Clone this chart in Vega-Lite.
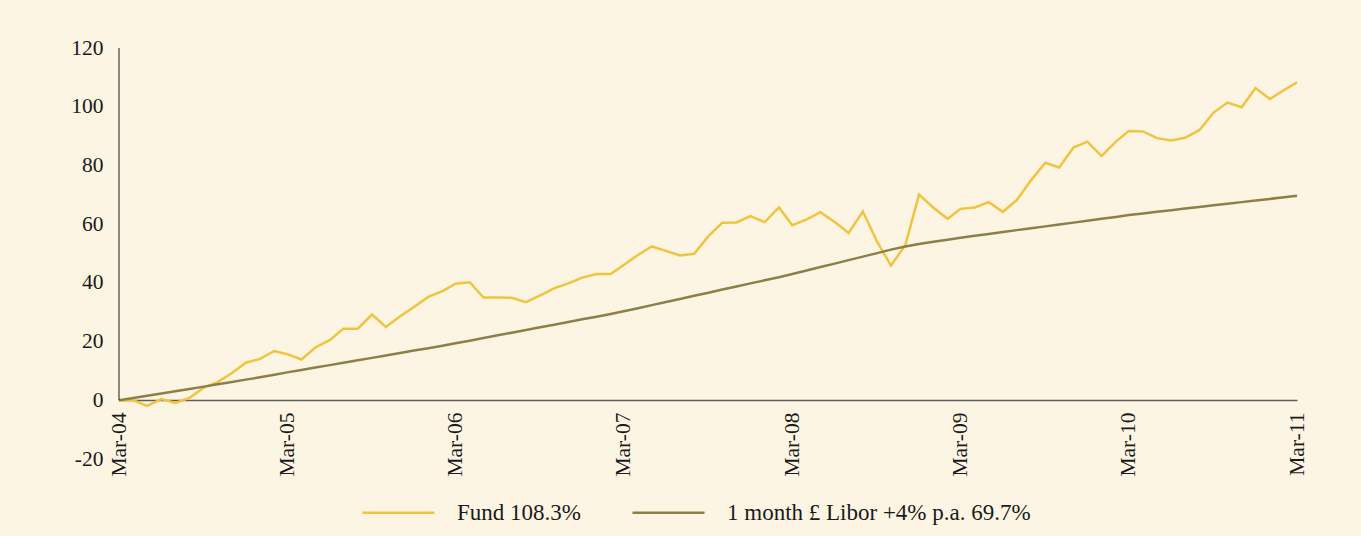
{
  "$schema": "https://vega.github.io/schema/vega-lite/v6.json",
  "width": 1178,
  "height": 411,
  "autosize": {"type": "none"},
  "padding": {"left": 119, "top": 48, "right": 64, "bottom": 77},
  "background": "#fdf5e3",
  "config": {
    "view": {"stroke": null},
    "font": "Liberation Serif",
    "axis": {"grid": false, "ticks": false, "labelColor": "#1a1a1a", "labelFont": "Liberation Serif", "title": null}
  },
  "data": {
    "values": [
      {"date": "2004-03-01", "fund": 0, "libor": 0},
      {"date": "2004-04-01", "fund": 0.0, "libor": 0.76},
      {"date": "2004-05-01", "fund": -1.9, "libor": 1.53},
      {"date": "2004-06-01", "fund": 0.4, "libor": 2.30},
      {"date": "2004-07-01", "fund": -0.9, "libor": 3.08},
      {"date": "2004-08-01", "fund": 0.8, "libor": 3.86},
      {"date": "2004-09-01", "fund": 4.3, "libor": 4.65},
      {"date": "2004-10-01", "fund": 6.2, "libor": 5.44},
      {"date": "2004-11-01", "fund": 9.3, "libor": 6.24},
      {"date": "2004-12-01", "fund": 12.8, "libor": 7.04},
      {"date": "2005-01-01", "fund": 14.1, "libor": 7.85},
      {"date": "2005-02-01", "fund": 16.8, "libor": 8.67},
      {"date": "2005-03-01", "fund": 15.7, "libor": 9.5},
      {"date": "2005-04-01", "fund": 13.9, "libor": 10.33},
      {"date": "2005-05-01", "fund": 18.0, "libor": 11.15},
      {"date": "2005-06-01", "fund": 20.5, "libor": 11.98},
      {"date": "2005-07-01", "fund": 24.4, "libor": 12.8},
      {"date": "2005-08-01", "fund": 24.4, "libor": 13.63},
      {"date": "2005-09-01", "fund": 29.2, "libor": 14.45},
      {"date": "2005-10-01", "fund": 25.0, "libor": 15.28},
      {"date": "2005-11-01", "fund": 28.6, "libor": 16.1},
      {"date": "2005-12-01", "fund": 31.8, "libor": 16.93},
      {"date": "2006-01-01", "fund": 35.2, "libor": 17.75},
      {"date": "2006-02-01", "fund": 37.2, "libor": 18.58},
      {"date": "2006-03-01", "fund": 39.7, "libor": 19.4},
      {"date": "2006-04-01", "fund": 40.2, "libor": 20.31},
      {"date": "2006-05-01", "fund": 35.0, "libor": 21.22},
      {"date": "2006-06-01", "fund": 35.0, "libor": 22.12},
      {"date": "2006-07-01", "fund": 34.9, "libor": 23.03},
      {"date": "2006-08-01", "fund": 33.4, "libor": 23.94},
      {"date": "2006-09-01", "fund": 35.7, "libor": 24.85},
      {"date": "2006-10-01", "fund": 38.1, "libor": 25.76},
      {"date": "2006-11-01", "fund": 39.8, "libor": 26.66},
      {"date": "2006-12-01", "fund": 41.8, "libor": 27.57},
      {"date": "2007-01-01", "fund": 43.0, "libor": 28.48},
      {"date": "2007-02-01", "fund": 43.0, "libor": 29.39},
      {"date": "2007-03-01", "fund": 46.1, "libor": 30.3},
      {"date": "2007-04-01", "fund": 49.5, "libor": 31.36},
      {"date": "2007-05-01", "fund": 52.4, "libor": 32.42},
      {"date": "2007-06-01", "fund": 50.9, "libor": 33.48},
      {"date": "2007-07-01", "fund": 49.3, "libor": 34.53},
      {"date": "2007-08-01", "fund": 49.9, "libor": 35.59},
      {"date": "2007-09-01", "fund": 55.9, "libor": 36.65},
      {"date": "2007-10-01", "fund": 60.5, "libor": 37.71},
      {"date": "2007-11-01", "fund": 60.6, "libor": 38.77},
      {"date": "2007-12-01", "fund": 62.7, "libor": 39.83},
      {"date": "2008-01-01", "fund": 60.7, "libor": 40.88},
      {"date": "2008-02-01", "fund": 65.7, "libor": 41.94},
      {"date": "2008-03-01", "fund": 59.6, "libor": 43.0},
      {"date": "2008-04-01", "fund": 61.6, "libor": 44.19},
      {"date": "2008-05-01", "fund": 64.1, "libor": 45.38},
      {"date": "2008-06-01", "fund": 60.7, "libor": 46.56},
      {"date": "2008-07-01", "fund": 57.0, "libor": 47.75},
      {"date": "2008-08-01", "fund": 64.3, "libor": 48.94},
      {"date": "2008-09-01", "fund": 54.0, "libor": 50.13},
      {"date": "2008-10-01", "fund": 45.9, "libor": 51.31},
      {"date": "2008-11-01", "fund": 52.8, "libor": 52.4},
      {"date": "2008-12-01", "fund": 70.1, "libor": 53.2},
      {"date": "2009-01-01", "fund": 65.6, "libor": 54.0},
      {"date": "2009-02-01", "fund": 61.8, "libor": 54.7},
      {"date": "2009-03-01", "fund": 65.2, "libor": 55.4},
      {"date": "2009-04-01", "fund": 65.7, "libor": 56.04},
      {"date": "2009-05-01", "fund": 67.5, "libor": 56.68},
      {"date": "2009-06-01", "fund": 64.2, "libor": 57.32},
      {"date": "2009-07-01", "fund": 68.2, "libor": 57.96},
      {"date": "2009-08-01", "fund": 75.0, "libor": 58.6},
      {"date": "2009-09-01", "fund": 80.9, "libor": 59.24},
      {"date": "2009-10-01", "fund": 79.3, "libor": 59.88},
      {"date": "2009-11-01", "fund": 86.1, "libor": 60.52},
      {"date": "2009-12-01", "fund": 88.1, "libor": 61.16},
      {"date": "2010-01-01", "fund": 83.2, "libor": 61.8},
      {"date": "2010-02-01", "fund": 88.1, "libor": 62.44},
      {"date": "2010-03-01", "fund": 91.7, "libor": 63.1},
      {"date": "2010-04-01", "fund": 91.6, "libor": 63.65},
      {"date": "2010-05-01", "fund": 89.3, "libor": 64.2},
      {"date": "2010-06-01", "fund": 88.5, "libor": 64.75},
      {"date": "2010-07-01", "fund": 89.4, "libor": 65.3},
      {"date": "2010-08-01", "fund": 92.0, "libor": 65.85},
      {"date": "2010-09-01", "fund": 98.0, "libor": 66.4},
      {"date": "2010-10-01", "fund": 101.4, "libor": 66.95},
      {"date": "2010-11-01", "fund": 99.8, "libor": 67.5},
      {"date": "2010-12-01", "fund": 106.4, "libor": 68.05},
      {"date": "2011-01-01", "fund": 102.6, "libor": 68.6},
      {"date": "2011-02-01", "fund": 105.7, "libor": 69.15},
      {"date": "2011-03-01", "fund": 108.3, "libor": 69.7}
    ]
  },
  "layer": [
    {
      "transform": [{"fold": ["fund", "libor"], "as": ["series", "value"]}],
      "mark": {"type": "line", "strokeWidth": 2.5},
      "encoding": {
        "x": {
          "field": "date",
          "type": "temporal",
          "scale": {
            "type": "utc",
            "nice": false,
            "domain": [
              {"year": 2004, "month": 3, "date": 1, "utc": true},
              {"year": 2011, "month": 3, "date": 1, "utc": true}
            ]
          },
          "axis": {
            "values": [
              {"year": 2004, "month": 3, "date": 1, "utc": true},
              {"year": 2005, "month": 3, "date": 1, "utc": true},
              {"year": 2006, "month": 3, "date": 1, "utc": true},
              {"year": 2007, "month": 3, "date": 1, "utc": true},
              {"year": 2008, "month": 3, "date": 1, "utc": true},
              {"year": 2009, "month": 3, "date": 1, "utc": true},
              {"year": 2010, "month": 3, "date": 1, "utc": true},
              {"year": 2011, "month": 3, "date": 1, "utc": true}
            ],
            "labelExpr": "utcFormat(datum.value, '%b-%y')",
            "labelAngle": -90,
            "labelAlign": "right",
            "labelBaseline": "middle",
            "labelFontSize": 21.5,
            "labelPadding": 12,
            "offset": -59,
            "domainColor": "#5e5e5e",
            "domainWidth": 1.5,
            "labelOverlap": false,
            "labelBound": false,
            "labelFlush": false
          }
        },
        "y": {
          "field": "value",
          "type": "quantitative",
          "scale": {"domain": [-20, 120], "nice": false, "zero": false},
          "axis": {
            "values": [-20, 0, 20, 40, 60, 80, 100, 120],
            "labelExpr": "'' + datum.value",
            "labelFontSize": 21.5,
            "labelPadding": 16,
            "domain": false
          }
        },
        "color": {
          "field": "series",
          "type": "nominal",
          "scale": {"domain": ["fund", "libor"], "range": ["#f0c43e", "#8c7f48"]},
          "legend": {
            "title": null,
            "orient": "none",
            "direction": "horizontal",
            "legendX": 242,
            "legendY": 427,
            "symbolType": "stroke",
            "symbolSize": 5184,
            "symbolStrokeWidth": 2.5,
            "labelOffset": 21,
            "columnPadding": 46,
            "labelFontSize": 23,
            "labelFont": "Liberation Serif",
            "labelColor": "#1a1a1a",
            "labelLimit": 600,
            "labelExpr": "datum.label == 'fund' ? 'Fund 108.3%' : '1 month £ Libor +4% p.a. 69.7%'"
          }
        }
      }
    },
    {
      "data": {"values": [{"date": "2004-03-01", "lo": 0, "hi": 120}]},
      "mark": {"type": "rule", "color": "#1a1a1a", "strokeWidth": 1},
      "encoding": {
        "x": {"field": "date", "type": "temporal"},
        "y": {"field": "lo", "type": "quantitative"},
        "y2": {"field": "hi"}
      }
    }
  ]
}
